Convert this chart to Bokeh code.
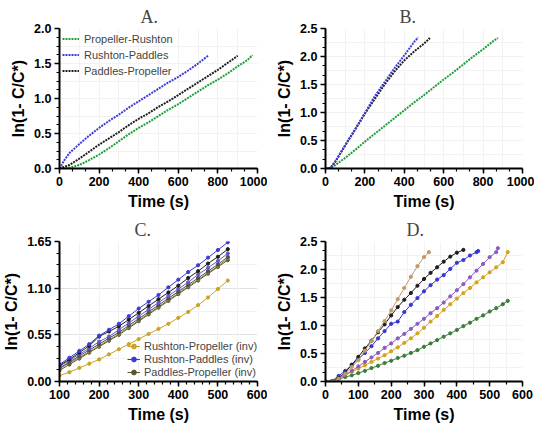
from bokeh.plotting import figure
from bokeh.layouts import gridplot
from bokeh.models import (Range1d, SingleIntervalTicker, FixedTicker, NumeralTickFormatter,
                          Legend, LegendItem, Grid)
from bokeh.embed import file_html
from bokeh.resources import INLINE

SANS = "Liberation Sans"
SERIF = "Liberation Serif"
YLABEL = "ln(1- C/C*)"

# --- panel A ---
t_a_green = [0, 50, 100, 150, 200, 250, 300, 350, 400, 450, 500, 550, 600, 650, 700, 750, 800, 850, 900, 950, 975]
a_green = [0.00, 0.01, 0.05, 0.12, 0.20, 0.29, 0.39, 0.49, 0.58, 0.66, 0.75, 0.84, 0.92, 1.01, 1.10, 1.19, 1.27, 1.36, 1.46, 1.55, 1.62]
t_a_blue = [0, 25, 50, 100, 150, 200, 250, 300, 350, 400, 450, 500, 550, 600, 650, 700, 750]
a_blue = [0.00, 0.12, 0.22, 0.35, 0.47, 0.58, 0.68, 0.77, 0.87, 0.96, 1.05, 1.14, 1.23, 1.31, 1.40, 1.50, 1.61]
t_a_black = [0, 50, 100, 150, 200, 250, 300, 350, 400, 450, 500, 550, 600, 650, 700, 750, 800, 850, 900]
a_black = [0.00, 0.05, 0.14, 0.24, 0.34, 0.43, 0.52, 0.62, 0.71, 0.79, 0.88, 0.96, 1.05, 1.14, 1.23, 1.32, 1.41, 1.51, 1.61]

# --- panel B ---
t_b_green = [0, 25, 50, 100, 150, 200, 250, 300, 350, 400, 450, 500, 550, 600, 650, 700, 750, 800, 850, 875]
b_green = [0.00, 0.01, 0.06, 0.19, 0.33, 0.48, 0.62, 0.76, 0.90, 1.04, 1.18, 1.31, 1.45, 1.59, 1.72, 1.86, 2.00, 2.13, 2.27, 2.33]
t_b_blue = [0, 25, 50, 100, 150, 200, 250, 300, 350, 400, 450, 470]
b_blue = [0.00, 0.01, 0.13, 0.42, 0.70, 0.99, 1.29, 1.54, 1.79, 2.02, 2.26, 2.34]
t_b_black = [0, 25, 50, 100, 150, 200, 250, 300, 350, 400, 450, 500, 530]
b_black = [0.00, 0.01, 0.12, 0.41, 0.69, 0.98, 1.24, 1.50, 1.73, 1.93, 2.09, 2.23, 2.33]

# --- panel C ---
c_yticks = [0.0, 0.55, 1.10, 1.65]
t_c = [100, 125, 150, 175, 200, 225, 250, 275, 300, 325, 350, 375, 400, 425, 450, 475, 500, 525]
c_blue = [0.20, 0.28, 0.36, 0.44, 0.54, 0.61, 0.68, 0.77, 0.86, 0.94, 1.02, 1.11, 1.20, 1.29, 1.37, 1.46, 1.55, 1.64]
c_black = [0.19, 0.26, 0.34, 0.42, 0.53, 0.59, 0.65, 0.73, 0.81, 0.89, 0.97, 1.05, 1.13, 1.22, 1.30, 1.39, 1.47, 1.56]
c_purple = [0.18, 0.25, 0.32, 0.39, 0.47, 0.53, 0.61, 0.69, 0.77, 0.85, 0.93, 1.01, 1.09, 1.17, 1.26, 1.34, 1.42, 1.51]
c_gray = [0.16, 0.23, 0.30, 0.37, 0.44, 0.51, 0.58, 0.66, 0.74, 0.82, 0.90, 0.98, 1.06, 1.14, 1.22, 1.30, 1.38, 1.47]
c_olive = [0.15, 0.22, 0.28, 0.35, 0.42, 0.49, 0.56, 0.64, 0.72, 0.80, 0.88, 0.96, 1.04, 1.12, 1.20, 1.28, 1.36, 1.45]
c_brown = [0.13, 0.20, 0.27, 0.34, 0.41, 0.48, 0.55, 0.63, 0.71, 0.79, 0.87, 0.95, 1.03, 1.11, 1.19, 1.27, 1.35, 1.43]
c_yellow = [0.07, 0.11, 0.16, 0.21, 0.26, 0.32, 0.38, 0.44, 0.50, 0.56, 0.62, 0.68, 0.75, 0.82, 0.90, 0.99, 1.09, 1.19]

# --- panel D ---
t_d_tan = [0, 20, 40, 60, 80, 100, 120, 140, 160, 180, 200, 220, 240, 260, 280, 300, 315]
d_tan = [0.00, 0.00, 0.05, 0.14, 0.26, 0.38, 0.55, 0.72, 0.90, 1.08, 1.27, 1.47, 1.67, 1.87, 2.06, 2.22, 2.31]
t_d_black = [0, 20, 40, 60, 80, 100, 120, 140, 160, 180, 200, 220, 240, 260, 280, 300, 320, 340, 360, 380, 400, 420]
d_black = [0.00, 0.00, 0.06, 0.16, 0.30, 0.44, 0.59, 0.73, 0.88, 1.02, 1.18, 1.33, 1.46, 1.58, 1.71, 1.83, 1.94, 2.04, 2.14, 2.23, 2.30, 2.35]
t_d_blue = [0, 20, 40, 60, 80, 100, 120, 140, 160, 180, 200, 220, 240, 260, 280, 300, 320, 340, 360, 380, 400, 420, 440, 460, 465]
d_blue = [0.00, 0.01, 0.10, 0.19, 0.29, 0.40, 0.51, 0.63, 0.77, 0.90, 1.03, 1.07, 1.24, 1.37, 1.49, 1.61, 1.72, 1.82, 1.90, 2.01, 2.12, 2.17, 2.25, 2.31, 2.33]
t_d_purple = [0, 20, 40, 60, 80, 100, 120, 140, 160, 180, 200, 220, 240, 260, 280, 300, 320, 340, 360, 380, 400, 420, 440, 460, 480, 500, 520, 525]
d_purple = [0.00, 0.00, 0.05, 0.12, 0.19, 0.27, 0.35, 0.43, 0.51, 0.60, 0.68, 0.77, 0.85, 0.94, 1.03, 1.12, 1.22, 1.31, 1.41, 1.52, 1.63, 1.74, 1.86, 1.98, 2.10, 2.22, 2.31, 2.38]
t_d_long = [0, 20, 40, 60, 80, 100, 120, 140, 160, 180, 200, 220, 240, 260, 280, 300, 320, 340, 360, 380, 400, 420, 440, 460, 480, 500, 520, 540, 555]
d_yellow = [0.00, 0.01, 0.07, 0.12, 0.17, 0.23, 0.29, 0.35, 0.41, 0.47, 0.54, 0.61, 0.69, 0.77, 0.86, 0.96, 1.07, 1.17, 1.28, 1.38, 1.48, 1.58, 1.67, 1.77, 1.86, 1.95, 2.04, 2.13, 2.31]
d_green = [0.00, 0.00, 0.04, 0.08, 0.11, 0.15, 0.19, 0.24, 0.28, 0.33, 0.37, 0.42, 0.46, 0.51, 0.56, 0.62, 0.68, 0.74, 0.80, 0.86, 0.92, 0.99, 1.05, 1.12, 1.18, 1.25, 1.31, 1.38, 1.44]

GREEN = "#1f9e3a"
BLUE = "#3b3bd6"
BLACK = "#1e1e1e"


def make_fig(title, title_x, xr, yr, xtick, xminor, ytick, yminor, yfmt, borders):
    left, right, top, bottom = borders
    p = figure(width=267, height=213, x_range=Range1d(*xr), y_range=Range1d(*yr),
               output_backend="svg", toolbar_location=None, tools="",
               min_border_left=left, min_border_right=right,
               min_border_top=top, min_border_bottom=bottom)
    p.outline_line_color = None
    p.title.text = title
    p.title.align = "left"
    p.title.offset = title_x
    p.title.text_font = SERIF
    p.title.text_font_style = "normal"
    p.title.text_font_size = "18px"
    p.title.standoff = 4

    p.xaxis.ticker = SingleIntervalTicker(interval=xtick, num_minor_ticks=xminor)
    if isinstance(ytick, list):
        step = ytick[1] / yminor
        minors = [i * step for i in range(int(round(ytick[-1] / step)) + 1)]
        p.yaxis.ticker = FixedTicker(ticks=ytick, minor_ticks=minors)
        half = [(ytick[i] + ytick[i + 1]) / 2 for i in range(len(ytick) - 1)]
        half_ticker = FixedTicker(ticks=half)
    else:
        p.yaxis.ticker = SingleIntervalTicker(interval=ytick, num_minor_ticks=yminor)
        half_ticker = SingleIntervalTicker(interval=ytick / 2)
    p.yaxis.formatter = NumeralTickFormatter(format=yfmt)
    p.xaxis.axis_label = "Time (s)"
    p.yaxis.axis_label = YLABEL
    for ax in (p.xaxis, p.yaxis):
        ax.axis_line_width = 2
        ax.axis_line_color = "black"
        ax.major_tick_line_width = 1.5
        ax.minor_tick_line_width = 1.2
        ax.major_tick_out = 5
        ax.major_tick_in = 0
        ax.minor_tick_out = 3
        ax.minor_tick_in = 0
        ax.major_label_text_font = SANS
        ax.major_label_text_font_style = "bold"
        ax.major_label_text_font_size = "12.5px"
        ax.major_label_text_color = "black"
        ax.major_label_standoff = 3
        ax.axis_label_text_font = SANS
        ax.axis_label_text_font_style = "bold"
        ax.axis_label_text_font_size = "16px"
        ax.axis_label_text_color = "black"
        ax.axis_label_standoff = 4

    p.xgrid.grid_line_color = "#e2e2e2"
    p.ygrid.grid_line_color = "#e2e2e2"
    p.add_layout(Grid(dimension=0, ticker=SingleIntervalTicker(interval=xtick / 2),
                      grid_line_color="#f2f2f2"))
    p.add_layout(Grid(dimension=1, ticker=half_ticker, grid_line_color="#f2f2f2"))
    return p


def dotted(p, x, y, color, label=None):
    kw = {"legend_label": label} if label else {}
    p.line(x, y, line_color=color, line_width=2, line_dash="2 1", **kw)


def marked(p, x, y, color, size=3.2):
    r1 = p.line(x, y, line_color=color, line_width=1)
    r2 = p.scatter(x, y, size=size, fill_color=color, line_color=color)
    return [r1, r2]


def panel_a():
    p = make_fig("A.", 81, (0, 1000), (0, 2.0), 200, 3, 0.5, 4, "0.0", (49, 9, 28, 45))
    dotted(p, t_a_green, a_green, GREEN, "Propeller-Rushton")
    dotted(p, t_a_blue, a_blue, BLUE, "Rushton-Paddles")
    dotted(p, t_a_black, a_black, BLACK, "Paddles-Propeller")
    lg = p.legend[0]
    lg.location = "top_left"
    lg.border_line_color = None
    lg.background_fill_alpha = 0
    lg.label_text_font = SANS
    lg.label_text_font_size = "11px"
    lg.label_height = 15
    lg.glyph_height = 15
    lg.glyph_width = 17
    lg.spacing = 1
    lg.padding = 2
    lg.margin = 3
    return p


def panel_b():
    p = make_fig("B.", 74, (0, 1000), (0, 2.5), 200, 3, 0.5, 3, "0.0", (57, 12, 28, 45))
    dotted(p, t_b_green, b_green, GREEN)
    dotted(p, t_b_black, b_black, BLACK)
    dotted(p, t_b_blue, b_blue, BLUE)
    return p


def panel_c():
    p = make_fig("C.", 75, (100, 600), (0, 1.65), 100, 5, c_yticks, 4, "0.00", (51, 10, 28, 45))
    r_yellow = marked(p, t_c, c_yellow, "#c9a227")
    r_brown = marked(p, t_c, c_brown, "#5f5232")
    marked(p, t_c, c_olive, "#7d7a3c")
    marked(p, t_c, c_gray, "#4d4d4d")
    marked(p, t_c, c_purple, "#6657c8")
    marked(p, t_c, c_black, BLACK)
    r_blue = marked(p, t_c, c_blue, BLUE)
    legend = Legend(items=[
        LegendItem(label="Rushton-Propeller (inv)", renderers=r_yellow),
        LegendItem(label="Rushton-Paddles (inv)", renderers=r_blue),
        LegendItem(label="Paddles-Propeller (inv)", renderers=r_brown),
    ], location=(68, 3))
    legend.border_line_color = None
    legend.background_fill_alpha = 0
    legend.label_text_font = SANS
    legend.label_text_font_size = "11px"
    legend.label_standoff = 4
    legend.label_height = 12
    legend.glyph_height = 12
    legend.glyph_width = 13
    legend.spacing = 1
    legend.padding = 0
    legend.margin = 0
    p.add_layout(legend)
    return p


def panel_d():
    p = make_fig("D.", 81, (0, 600), (0, 2.5), 100, 2, 0.5, 3, "0.0", (58, 11, 28, 45))
    marked(p, t_d_long, d_green, "#3a7d3a")
    marked(p, t_d_long, d_yellow, "#d4a21c")
    marked(p, t_d_purple, d_purple, "#8a5cc0")
    marked(p, t_d_blue, d_blue, "#3535d0")
    marked(p, t_d_black, d_black, BLACK)
    marked(p, t_d_tan, d_tan, "#c29a6a")
    return p


def main() -> None:
    grid = gridplot([[panel_a(), panel_b()], [panel_c(), panel_d()]], toolbar_location=None)
    open("out.html", "w").write(file_html(grid, INLINE))


if __name__ == "__main__":
    main()
